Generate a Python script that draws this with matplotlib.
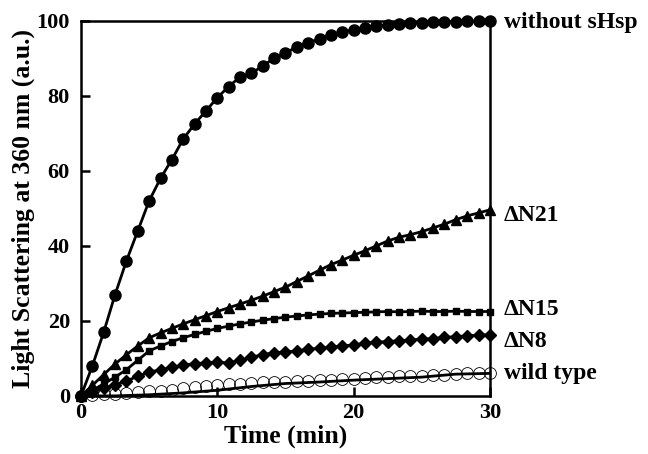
import numpy as np
import matplotlib
matplotlib.use("Agg")
import matplotlib.pyplot as plt

plt.rcParams['font.family'] = ['Liberation Serif', 'DejaVu Serif']
plt.rcParams['font.weight'] = 'bold'

# time points, one every 50 s
time = [i * 30 / 36 for i in range(37)]

without_shsp = [0, 8, 17, 27, 36, 44, 52, 58, 63, 68.5, 72.5, 76, 79.5, 82.5,
                85, 86, 88, 90, 91.5, 93, 94.2, 95.2, 96.3, 97, 97.6, 98.2,
                98.6, 99, 99.2, 99.4, 99.5, 99.6, 99.7, 99.8, 99.9, 100, 100]

dn21 = [0, 2.8, 5.7, 8.5, 11, 13.3, 15.5, 16.8, 18, 19.2, 20.3, 21.4, 22.5,
        23.5, 24.5, 25.5, 26.6, 27.8, 29, 30.5, 32, 33.5, 35, 36.2, 37.5,
        38.7, 40, 41.3, 42.3, 43, 43.8, 44.8, 45.8, 47, 48, 48.8, 49.6]

dn15 = [0, 1.5, 3.2, 5, 7, 9.5, 12, 13.3, 14.5, 15.5, 16.4, 17.2, 18, 18.6,
        19.2, 19.7, 20.2, 20.6, 21, 21.3, 21.6, 21.8, 22, 22.1, 22.2, 22.3,
        22.4, 22.5, 22.4, 22.5, 22.6, 22.5, 22.5, 22.6, 22.5, 22.5, 22.5]

dn8 = [0, 1, 2, 3, 4, 5.2, 6.3, 7, 7.6, 8.2, 8.6, 8.8, 9, 8.8, 9.5, 10.3, 11,
       11.5, 11.7, 12, 12.4, 12.7, 13, 13.3, 13.6, 14, 14.3, 14.5, 14.7, 14.9,
       15.1, 15.3, 15.6, 15.8, 16, 16.2, 16.3]

wild = [0, 0.2, 0.4, 0.6, 0.8, 1.0, 1.2, 1.4, 1.7, 2.0, 2.3, 2.6, 2.9, 3.1,
        3.3, 3.5, 3.6, 3.7, 3.8, 3.9, 4.0, 4.2, 4.3, 4.5, 4.6, 4.8, 5.0, 5.1,
        5.2, 5.3, 5.4, 5.5, 5.6, 5.8, 6.0, 6.0, 6.0]

# smoothed trace drawn under the wild type points
wild_line_t = [0, 2.5, 5, 7.5, 10, 12.5, 15, 17.5, 20, 22.5, 25, 27.5, 30]
wild_line = [0, 0, 0.3, 0.8, 1.5, 2.5, 3.3, 3.7, 4.2, 4.6, 5.0, 5.8, 6.0]

labels = ["without sHsp", "\u0394N21", "\u0394N15", "\u0394N8", "wild type"]
label_y = [99.5, 48, 23, 14.4, 6]

fig = plt.figure(figsize=(6.48, 4.54), dpi=100)
ax = fig.add_axes([0.125, 0.128, 0.631, 0.826])

lw = 2.0
ax.plot(wild_line_t, wild_line, '-', color='black', lw=lw, clip_on=False)
ax.plot(time, wild, 'o', mfc='none', mec='black', mew=0.6, ms=8.5, clip_on=False)
ax.plot(time, dn8, '-D', color='black', lw=lw, ms=6, clip_on=False)
ax.plot(time, dn15, '-s', color='black', lw=lw, ms=5, clip_on=False)
ax.plot(time, dn21, '-^', color='black', lw=lw, ms=6.5, clip_on=False)
ax.plot(time, without_shsp, '-o', color='black', lw=lw, ms=8, clip_on=False)

for name, yv in zip(labels, label_y):
    ax.text(31.0, yv, name, fontsize=17, fontweight='bold', va='center', ha='left')

ax.set_xlim(0, 30)
ax.set_ylim(0, 100)
ax.set_xticks([0, 10, 20, 30])
ax.set_yticks([0, 20, 40, 60, 80, 100])
ax.tick_params(direction='in', length=6.5, width=1.8, labelsize=16)
ax.tick_params(axis='y', pad=8)
ax.tick_params(axis='x', pad=5)
ax.tick_params(top=False, right=False)
for s in ax.spines.values():
    s.set_linewidth(1.8)

ax.set_xlabel("Time (min)", fontsize=18.5, fontweight='bold', labelpad=1)
ax.set_ylabel("Light Scattering at 360 nm (a.u.)", fontsize=18.5, fontweight='bold', labelpad=1)

fig.savefig("out.png", dpi=100)
